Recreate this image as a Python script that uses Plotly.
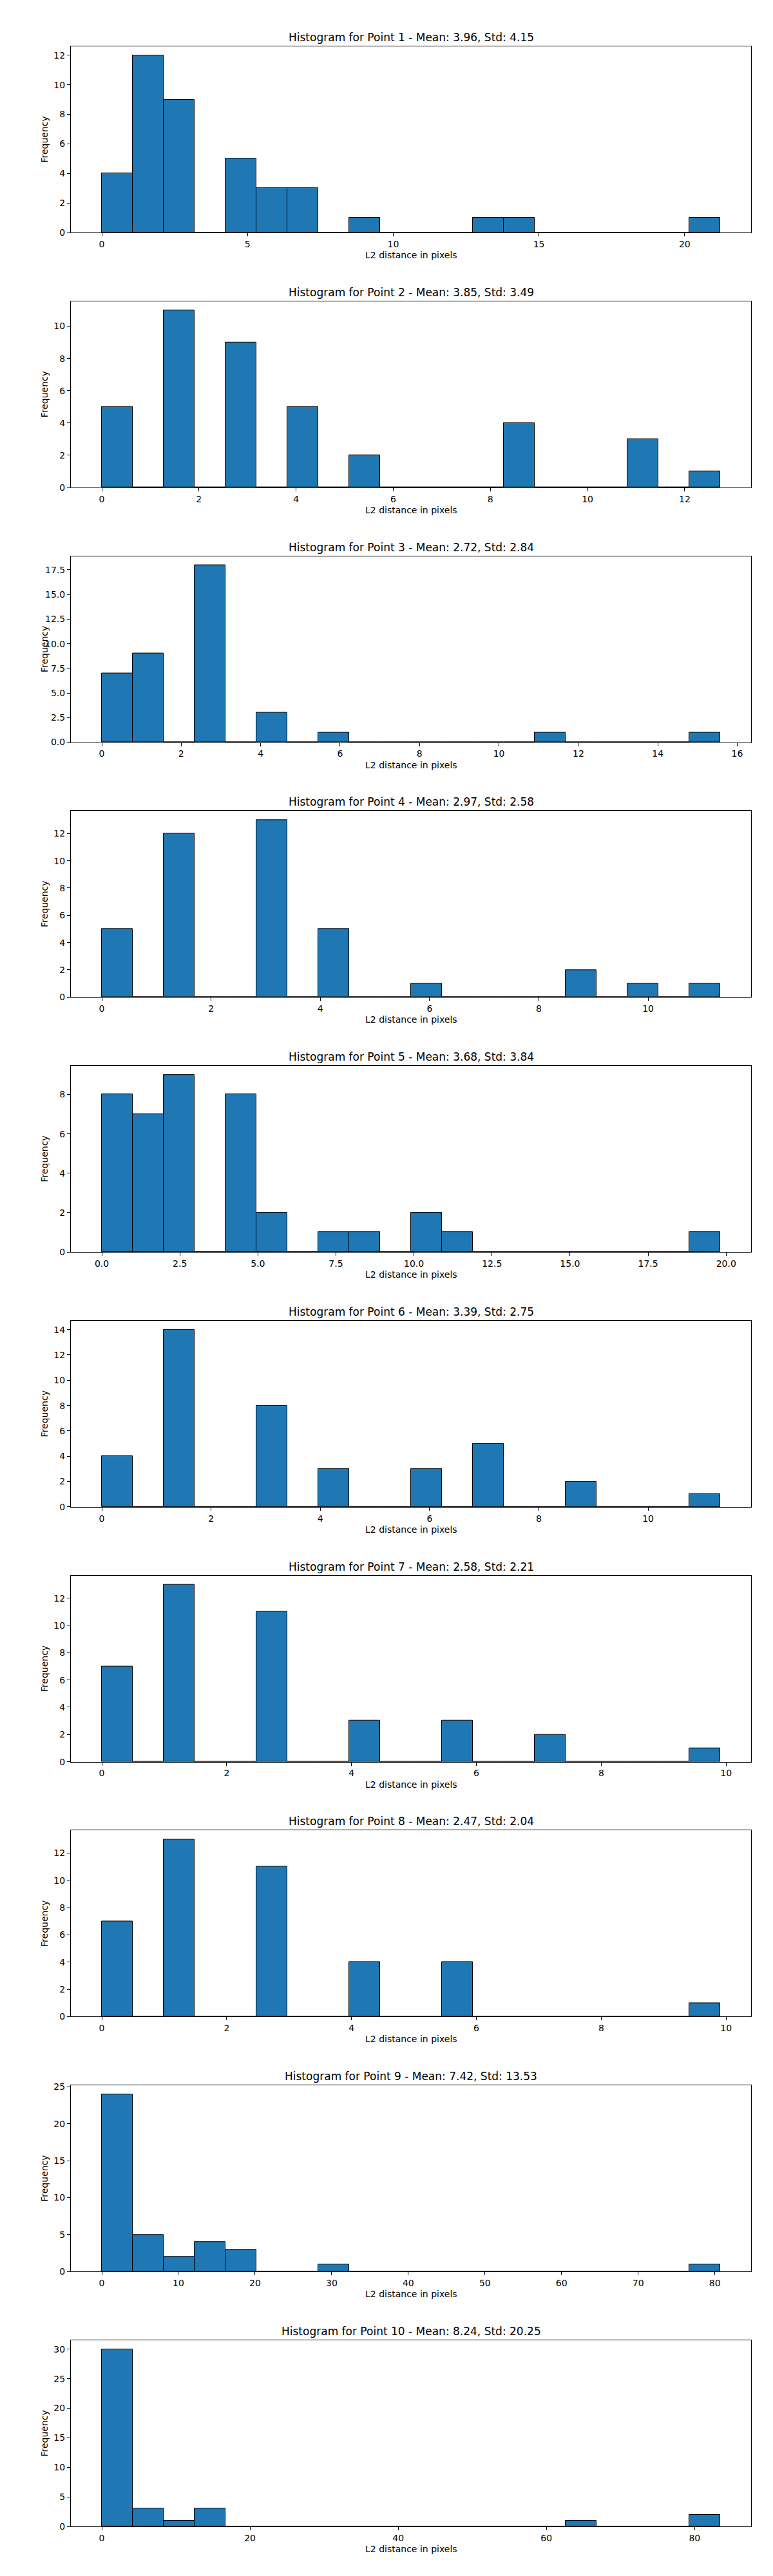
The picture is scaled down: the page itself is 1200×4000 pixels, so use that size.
import plotly.graph_objects as go
from plotly.subplots import make_subplots

# ---- data ----
point_names = [f"Point {i}" for i in range(1, 11)]
means = [3.96, 3.85, 2.72, 2.97, 3.68, 3.39, 2.58, 2.47, 7.42, 8.24]
stds = [4.15, 3.49, 2.84, 2.58, 3.84, 2.75, 2.21, 2.04, 13.53, 20.25]

# upper edge of the last bin (lower edge is 0), 20 bins each
hist_max = [21.22, 12.73, 15.57, 11.32, 19.81, 11.32, 9.905, 9.905, 80.7, 83.45]

counts_p1 = [4, 12, 9, 0, 5, 3, 3, 0, 1, 0, 0, 0, 1, 1, 0, 0, 0, 0, 0, 1]
counts_p2 = [5, 0, 11, 0, 9, 0, 5, 0, 2, 0, 0, 0, 0, 4, 0, 0, 0, 3, 0, 1]
counts_p3 = [7, 9, 0, 18, 0, 3, 0, 1, 0, 0, 0, 0, 0, 0, 1, 0, 0, 0, 0, 1]
counts_p4 = [5, 0, 12, 0, 0, 13, 0, 5, 0, 0, 1, 0, 0, 0, 0, 2, 0, 1, 0, 1]
counts_p5 = [8, 7, 9, 0, 8, 2, 0, 1, 1, 0, 2, 1, 0, 0, 0, 0, 0, 0, 0, 1]
counts_p6 = [4, 0, 14, 0, 0, 8, 0, 3, 0, 0, 3, 0, 5, 0, 0, 2, 0, 0, 0, 1]
counts_p7 = [7, 0, 13, 0, 0, 11, 0, 0, 3, 0, 0, 3, 0, 0, 2, 0, 0, 0, 0, 1]
counts_p8 = [7, 0, 13, 0, 0, 11, 0, 0, 4, 0, 0, 4, 0, 0, 0, 0, 0, 0, 0, 1]
counts_p9 = [24, 5, 2, 4, 3, 0, 0, 1, 0, 0, 0, 0, 0, 0, 0, 0, 0, 0, 0, 1]
counts_p10 = [30, 3, 1, 3, 0, 0, 0, 0, 0, 0, 0, 0, 0, 0, 0, 1, 0, 0, 0, 2]
all_counts = [counts_p1, counts_p2, counts_p3, counts_p4, counts_p5,
              counts_p6, counts_p7, counts_p8, counts_p9, counts_p10]

x_dticks = [5, 2, 2, 2, 2.5, 2, 2, 2, 10, 20]
x_formats = ["d", "d", "d", "d", ".1f", "d", "d", "d", "d", "d"]
y_dticks = [2, 2, 2.5, 2, 2, 2, 2, 2, 5, 5]
y_formats = ["d", "d", ".1f", "d", "d", "d", "d", "d", "d", "d"]

x_label = "L2 distance in pixels"
y_label = "Frequency"

# ---- figure ----
W, H = 1200, 4000
mt, mb, ml, mr = 64, 85, 102, 42
n = len(all_counts)
plot_h = H - mt - mb
gap = 106.8

fig = make_subplots(rows=n, cols=1, vertical_spacing=gap / plot_h)

FONT = "DejaVu Sans"
annotations = []
for i, counts in enumerate(all_counts):
    nb = len(counts)
    w = hist_max[i] / nb
    centers = [(k + 0.5) * w for k in range(nb)]
    fig.add_trace(
        go.Bar(
            x=centers, y=counts, width=[w] * nb,
            marker=dict(color="#1f77b4", line=dict(color="black", width=1)),
            showlegend=False,
        ),
        row=i + 1, col=1,
    )
    xmax = hist_max[i]
    ymax = max(counts)
    axis_common = dict(
        showline=True, linecolor="black", linewidth=1, mirror=True,
        ticks="outside", ticklen=5, tickwidth=1, tickcolor="black",
        showgrid=False, zeroline=False,
        tickfont=dict(family=FONT, size=14, color="black"),
    )
    fig.update_xaxes(range=[-0.05 * xmax, 1.05 * xmax], dtick=x_dticks[i], tick0=0,
                     tickformat=x_formats[i], row=i + 1, col=1, **axis_common)
    fig.update_yaxes(range=[0, 1.05 * ymax], dtick=y_dticks[i], tick0=0,
                     tickformat=y_formats[i], row=i + 1, col=1, **axis_common)

    ax = "" if i == 0 else str(i + 1)
    annotations.append(dict(
        text=f"Histogram for {point_names[i]} - Mean: {means[i]:.2f}, Std: {stds[i]:.2f}",
        xref=f"x{ax} domain", yref=f"y{ax} domain", x=0.5, y=1,
        xanchor="center", yanchor="middle", yshift=14, showarrow=False,
        font=dict(family=FONT, size=17, color="black"),
    ))
    annotations.append(dict(
        text=x_label, xref=f"x{ax} domain", yref=f"y{ax} domain", x=0.5, y=0,
        xanchor="center", yanchor="middle", yshift=-35, showarrow=False,
        font=dict(family=FONT, size=14, color="black"),
    ))
    annotations.append(dict(
        text=y_label, xref=f"x{ax} domain", yref=f"y{ax} domain", x=0, y=0.5,
        xanchor="center", yanchor="middle", xshift=-41, textangle=-90, showarrow=False,
        font=dict(family=FONT, size=14, color="black"),
    ))

fig.update_layout(
    width=W, height=H,
    margin=dict(t=mt, b=mb, l=ml, r=mr),
    plot_bgcolor="white", paper_bgcolor="white",
    bargap=0, showlegend=False,
    annotations=annotations,
)

fig.write_html("out.html")
